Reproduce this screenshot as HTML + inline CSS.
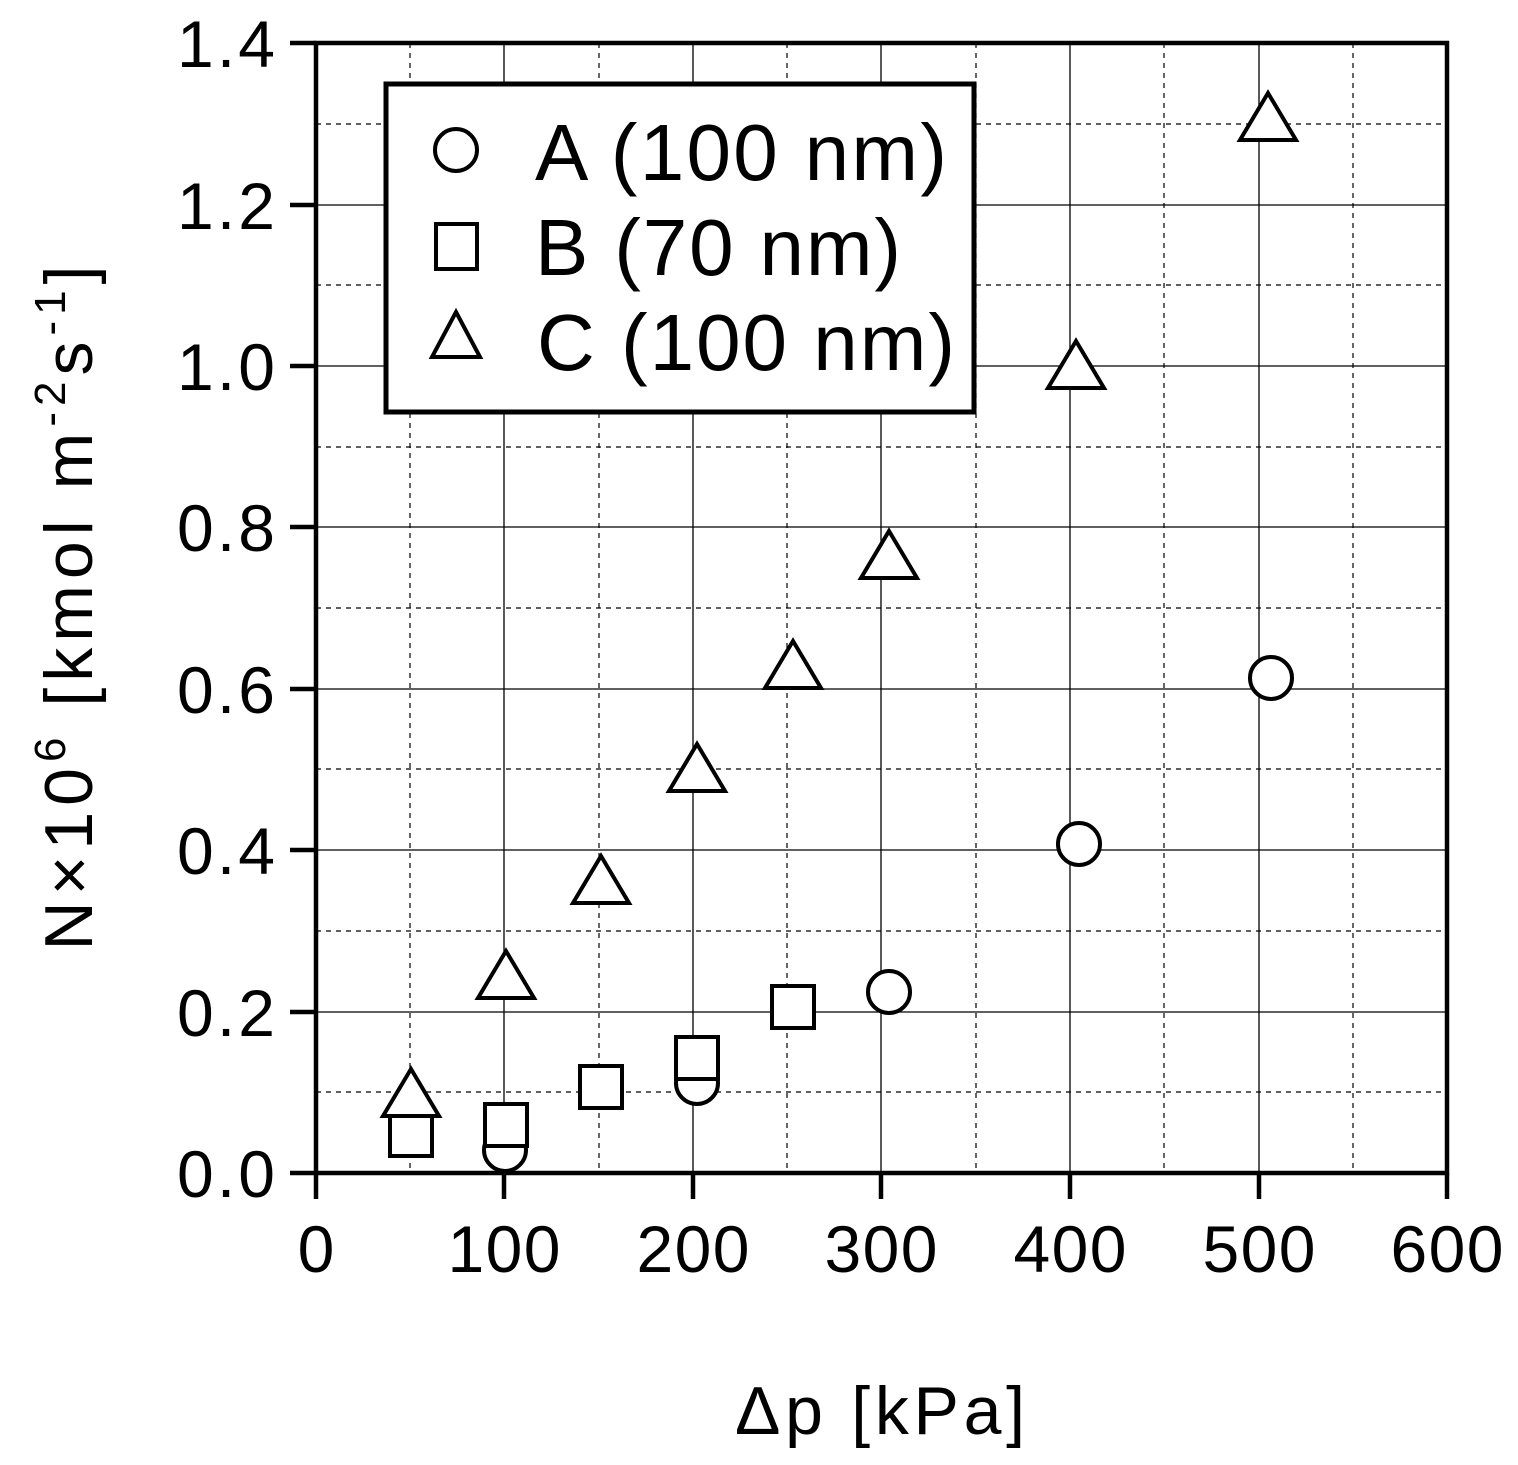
<!DOCTYPE html>
<html><head><meta charset="utf-8"><style>body{margin:0;background:#fff}svg{display:block}</style></head>
<body>
<svg width="1518" height="1465" viewBox="0 0 1518 1465" xmlns="http://www.w3.org/2000/svg" font-family="Liberation Sans, sans-serif">
<rect width="1518" height="1465" fill="#fff"/>
<g stroke="#000" stroke-width="1.2" stroke-dasharray="5,5">
<line x1="410" y1="43" x2="410" y2="1173"/><line x1="599" y1="43" x2="599" y2="1173"/><line x1="787" y1="43" x2="787" y2="1173"/><line x1="976" y1="43" x2="976" y2="1173"/><line x1="1164" y1="43" x2="1164" y2="1173"/><line x1="1353" y1="43" x2="1353" y2="1173"/>
<line x1="316" y1="1092" x2="1447" y2="1092"/><line x1="316" y1="931" x2="1447" y2="931"/><line x1="316" y1="769" x2="1447" y2="769"/><line x1="316" y1="608" x2="1447" y2="608"/><line x1="316" y1="447" x2="1447" y2="447"/><line x1="316" y1="285" x2="1447" y2="285"/><line x1="316" y1="124" x2="1447" y2="124"/>
</g>
<g stroke="#000" stroke-width="1.3">
<line x1="504" y1="43" x2="504" y2="1173"/><line x1="693" y1="43" x2="693" y2="1173"/><line x1="881" y1="43" x2="881" y2="1173"/><line x1="1070" y1="43" x2="1070" y2="1173"/><line x1="1259" y1="43" x2="1259" y2="1173"/>
<line x1="316" y1="1012" x2="1447" y2="1012"/><line x1="316" y1="850" x2="1447" y2="850"/><line x1="316" y1="689" x2="1447" y2="689"/><line x1="316" y1="527" x2="1447" y2="527"/><line x1="316" y1="366" x2="1447" y2="366"/><line x1="316" y1="205" x2="1447" y2="205"/>
</g>
<g stroke="#000" stroke-width="4.5">
<rect x="316" y="43" width="1131" height="1130" fill="none"/>
<line x1="290" y1="1173" x2="316" y2="1173"/><line x1="290" y1="1012" x2="316" y2="1012"/><line x1="290" y1="850" x2="316" y2="850"/><line x1="290" y1="689" x2="316" y2="689"/><line x1="290" y1="527" x2="316" y2="527"/><line x1="290" y1="366" x2="316" y2="366"/><line x1="290" y1="205" x2="316" y2="205"/><line x1="290" y1="43" x2="316" y2="43"/>
<line x1="316" y1="1173" x2="316" y2="1199"/><line x1="504" y1="1173" x2="504" y2="1199"/><line x1="693" y1="1173" x2="693" y2="1199"/><line x1="881" y1="1173" x2="881" y2="1199"/><line x1="1070" y1="1173" x2="1070" y2="1199"/><line x1="1259" y1="1173" x2="1259" y2="1199"/><line x1="1447" y1="1173" x2="1447" y2="1199"/>
</g>
<g font-size="66" text-anchor="end">
<text x="275" y="1197" textLength="98">0.0</text><text x="275" y="1036" textLength="98">0.2</text><text x="275" y="874" textLength="98">0.4</text><text x="275" y="713" textLength="98">0.6</text><text x="275" y="551" textLength="98">0.8</text><text x="275" y="390" textLength="98">1.0</text><text x="275" y="229" textLength="98">1.2</text><text x="275" y="67" textLength="98">1.4</text>
</g>
<g font-size="66" text-anchor="middle">
<text x="316" y="1272">0</text><text x="504" y="1272" textLength="113">100</text><text x="693" y="1272" textLength="113">200</text><text x="881" y="1272" textLength="113">300</text><text x="1070" y="1272" textLength="113">400</text><text x="1259" y="1272" textLength="113">500</text><text x="1447" y="1272" textLength="113">600</text>
</g>
<text x="880" y="1434" font-size="68" text-anchor="middle" textLength="290">Δp [kPa]</text>
<text transform="translate(92,608) rotate(-90)" font-size="68" text-anchor="middle" textLength="685">N×10<tspan font-size="44" dy="-27">6</tspan><tspan dy="27">  [kmol m</tspan><tspan font-size="44" dy="-27">-2</tspan><tspan dy="27">s</tspan><tspan font-size="44" dy="-27">-1</tspan><tspan dy="27">]</tspan></text>
<g fill="#fff" stroke="#000" stroke-width="4">
<circle cx="505" cy="1150" r="21"/><circle cx="697" cy="1083" r="21"/><circle cx="889" cy="992" r="21"/><circle cx="1079" cy="844" r="21"/><circle cx="1271" cy="678" r="21"/>
<rect x="390" y="1114" width="42" height="42"/><rect x="485" y="1104" width="42" height="42"/><rect x="580" y="1066" width="42" height="42"/><rect x="676" y="1037" width="42" height="42"/><rect x="772" y="986" width="42" height="42"/>
<path d="M411,1069 L439,1116 L383,1116 Z"/><path d="M506,951 L534,998 L478,998 Z"/><path d="M601,856 L629,903 L573,903 Z"/><path d="M697,744 L725,791 L669,791 Z"/><path d="M793,641 L821,688 L765,688 Z"/><path d="M889,531 L917,578 L861,578 Z"/><path d="M1076,341 L1104,388 L1048,388 Z"/><path d="M1268,93 L1296,140 L1240,140 Z"/>
</g>
<rect x="386" y="84" width="588" height="328" fill="#fff" stroke="#000" stroke-width="5"/>
<g fill="#fff" stroke="#000" stroke-width="4">
<circle cx="456" cy="150" r="21"/><rect x="436" y="224" width="41" height="45"/><path d="M456,312 L480,357 L432,357 Z"/>
</g>
<g font-size="80">
<text x="535" y="180" textLength="412">A (100 nm)</text><text x="535" y="275" textLength="366">B (70 nm)</text><text x="537" y="370" textLength="418">C (100 nm)</text>
</g>
</svg>
</body></html>
